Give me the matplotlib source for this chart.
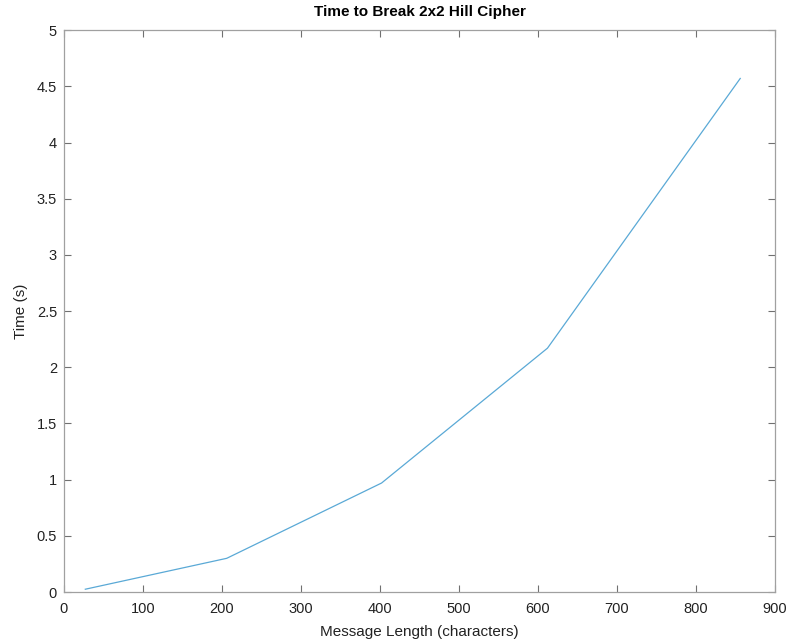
import matplotlib
matplotlib.use("Agg")
import matplotlib.pyplot as plt

# message length (characters) vs time to break (s)
msg_len = [27, 206, 402, 612, 856]
times = [0.025, 0.30, 0.97, 2.17, 4.57]

x_ticks = [0, 100, 200, 300, 400, 500, 600, 700, 800, 900]
y_ticks = [0, 0.5, 1, 1.5, 2, 2.5, 3, 3.5, 4, 4.5, 5]
y_labels = ['0', '0.5', '1', '1.5', '2', '2.5', '3', '3.5', '4', '4.5', '5']

plt.rcParams['font.family'] = ['Liberation Sans', 'DejaVu Sans']

fig = plt.figure(figsize=(7.9, 6.41), dpi=100)
ax = fig.add_axes([0.081, 0.0764, 0.9, 0.8766])

ax.plot(msg_len, times, color='#5aa9d6', linewidth=0.9)

ax.set_xlim(0, 900)
ax.set_ylim(0, 5)
ax.set_xticks(x_ticks)
ax.set_yticks(y_ticks)
ax.set_yticklabels(y_labels)

for s in ax.spines.values():
    s.set_color('#a0a0a0')
    s.set_linewidth(0.9)
ax.tick_params(direction='in', top=True, right=True, length=5, width=0.8,
               color='#707070', labelsize=10.5, labelcolor='#222222')
ax.tick_params(axis='x', pad=7)
ax.tick_params(axis='y', pad=5)

ax.set_title('Time to Break 2x2 Hill Cipher', fontsize=11, fontweight='bold', pad=10)
ax.set_xlabel('Message Length (characters)', fontsize=11, color='#222222', labelpad=7)
ax.set_ylabel('Time (s)', fontsize=11, color='#222222', labelpad=6)

fig.savefig('out.png', dpi=100)
